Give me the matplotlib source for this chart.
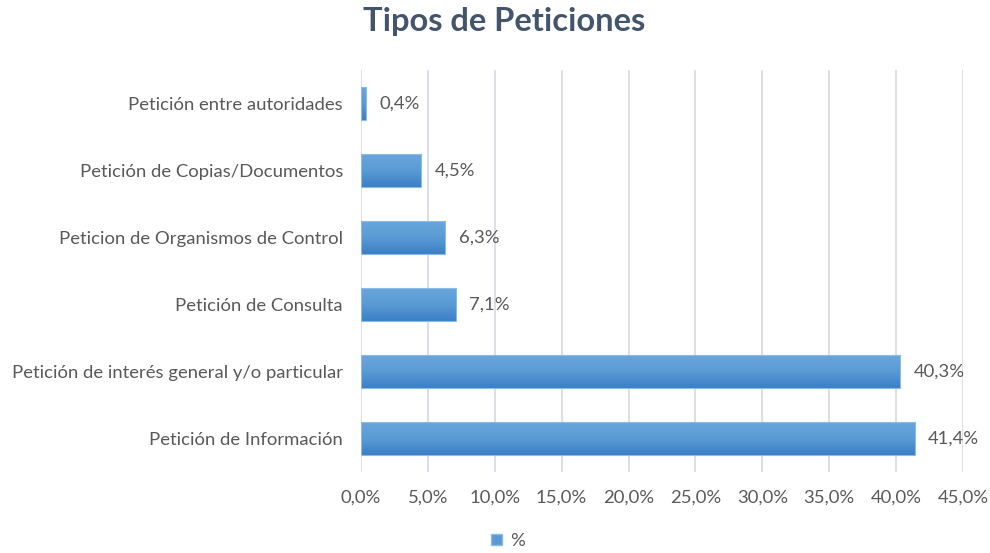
import matplotlib
matplotlib.use("Agg")
import matplotlib.pyplot as plt
import numpy as np
from matplotlib.patches import Patch
from matplotlib.colors import LinearSegmentedColormap

plt.rcParams['font.family'] = ['Lato', 'DejaVu Sans']

categories = [
    "Petición de Información",
    "Petición de interés general y/o particular",
    "Petición de Consulta",
    "Peticion de Organismos de Control",
    "Petición de Copias/Documentos",
    "Petición entre autoridades",
]
values = [41.4, 40.3, 7.1, 6.3, 4.5, 0.4]
value_labels = ["41,4%", "40,3%", "7,1%", "6,3%", "4,5%", "0,4%"]
xticks = [0, 5, 10, 15, 20, 25, 30, 35, 40, 45]
xtick_labels = ["0,0%", "5,0%", "10,0%", "15,0%", "20,0%", "25,0%", "30,0%", "35,0%", "40,0%", "45,0%"]

text_color = "#595959"
fs = 13.3

fig = plt.figure(figsize=(9.9, 5.53), dpi=100)
ax = fig.add_axes([361/990, 1-472/553, (963-361)/990, (472-70)/553])

y = list(range(len(categories)))
bars = ax.barh(y, values, height=0.5, color="none", edgecolor="#8DBBE8", linewidth=0.8, zorder=4)
cmap = LinearSegmentedColormap.from_list("g", ["#3B7FC6", "#5B9BD5", "#6AA6DD"])
grad = np.linspace(0, 1, 64).reshape(-1, 1)
for b in bars:
    x0, y0 = b.get_x(), b.get_y()
    w, h = b.get_width(), b.get_height()
    im = ax.imshow(grad, cmap=cmap, aspect="auto", origin="lower",
                   extent=[x0, x0 + w, y0, y0 + h], zorder=3)
    im.set_clip_path(b)
for yi, v, lab in zip(y, values, value_labels):
    ax.text(v + 1.0, yi, lab, va="center", ha="left", fontsize=fs, color=text_color)

ax.set_xlim(0, 45)
ax.set_ylim(-0.5, len(categories) - 0.5)
ax.set_xticks(xticks)
ax.set_xticklabels(xtick_labels, fontsize=fs, color=text_color)
ax.set_yticks(y)
ax.set_yticklabels(categories, fontsize=fs, color=text_color)
ax.tick_params(axis="x", length=0, pad=13)
ax.tick_params(axis="y", length=0, pad=13)
ax.xaxis.grid(True, color="#DCE0E6", linewidth=1.4, zorder=0)
ax.set_axisbelow(True)
for s in ax.spines.values():
    s.set_visible(False)

fig.text(504/990, 1 - 22/553, "Tipos de Peticiones", ha="center", va="center",
         fontsize=23.5, fontweight="bold", color="#44546A")

fig.legend(handles=[Patch(facecolor="#5B9BD5", edgecolor="#8DBBE8", label="%")],
           loc="center", bbox_to_anchor=(508/990, 1 - 541/553), frameon=False,
           fontsize=fs, labelcolor=text_color, handlelength=0.6, handleheight=0.6,
           handletextpad=0.4)

fig.savefig("out.png", dpi=100)
